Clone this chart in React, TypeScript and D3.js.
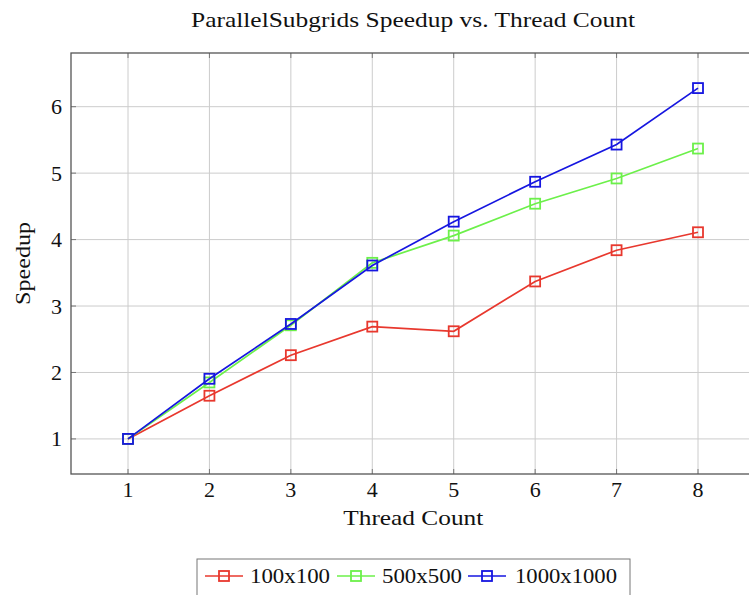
import React, { type JSX } from "react";
import * as d3 from "d3";

const threads = [1, 2, 3, 4, 5, 6, 7, 8];
const seriesNames = ["100x100", "500x500", "1000x1000"];
const speedup100 = [1.0, 1.65, 2.26, 2.69, 2.62, 3.37, 3.84, 4.11];
const speedup500 = [1.0, 1.85, 2.71, 3.65, 4.06, 4.54, 4.92, 5.37];
const speedup1000 = [1.0, 1.905, 2.73, 3.61, 4.27, 4.87, 5.43, 6.28];
const yTickValues = [1, 2, 3, 4, 5, 6];
const colors = ["#e8382e", "#6cf04a", "#1616e0"];

const width = 749;
const height = 595;
const font = "'Liberation Serif', 'DejaVu Serif', serif";
const fontSize = 22;

function Marker(props: { x: number, y: number, color: string }): JSX.Element {
    const s = 10;
    return <rect x={props.x - s / 2} y={props.y - s / 2} width={s} height={s}
        fill="none" stroke={props.color} strokeWidth={1.8} />;
}

export default function App(): JSX.Element {
    const plot = { left: 71, right: 755, top: 53, bottom: 474 };

    // pgfplots style: 10% enlarged limits around the data
    const xMin = 1, xMax = 8;
    const allY = [...speedup100, ...speedup500, ...speedup1000];
    const yMin = d3.min(allY)!, yMax = d3.max(allY)!;
    const xPad = (xMax - xMin) * 0.1;
    const yPad = (yMax - yMin) * 0.1;

    const x = d3.scaleLinear([xMin - xPad, xMax + xPad], [plot.left, plot.right]);
    const y = d3.scaleLinear([yMin - yPad, yMax + yPad], [plot.bottom, plot.top]);

    const line = d3.line<number>()
        .x((d, i) => x(threads[i]))
        .y((d) => y(d));

    const data = [speedup100, speedup500, speedup1000];
    const tickLen = 5;

    // legend layout (computer modern is wider than Liberation, so pin text widths)
    const legend = { left: 197, top: 559, lineY: 576, textY: 583 };
    const legendItems = [
        { lx: 205, tx: 250, w: 80 },
        { lx: 337, tx: 382, w: 80 },
        { lx: 468, tx: 515, w: 102 },
    ];

    return <svg width={width} height={height}
        style={{ position: "absolute", left: 0, top: 0, overflow: "hidden" }}>
        <rect x={0} y={0} width={width} height={height} fill="white" />
        <text x={413} y={26.5} textAnchor="middle" fontFamily={font} fontSize={fontSize} fill="#111"
            textLength={444} lengthAdjust="spacingAndGlyphs">
            ParallelSubgrids Speedup vs. Thread Count
        </text>

        {/* Grid */}
        <g stroke="#cccccc" strokeWidth={1}>
            {threads.map((t) => (
                <line key={"gx" + t} x1={x(t)} x2={x(t)} y1={plot.top} y2={plot.bottom} />
            ))}
            {yTickValues.map((t) => (
                <line key={"gy" + t} x1={plot.left} x2={plot.right} y1={y(t)} y2={y(t)} />
            ))}
        </g>

        {/* Ticks, inward on all sides */}
        <g stroke="#777" strokeWidth={1}>
            {threads.map((t) => (
                <g key={"tx" + t}>
                    <line x1={x(t)} x2={x(t)} y1={plot.bottom} y2={plot.bottom - tickLen} />
                    <line x1={x(t)} x2={x(t)} y1={plot.top} y2={plot.top + tickLen} />
                </g>
            ))}
            {yTickValues.map((t) => (
                <g key={"ty" + t}>
                    <line x1={plot.left} x2={plot.left + tickLen} y1={y(t)} y2={y(t)} />
                    <line x1={plot.right} x2={plot.right - tickLen} y1={y(t)} y2={y(t)} />
                </g>
            ))}
        </g>

        <rect x={plot.left} y={plot.top} width={plot.right - plot.left} height={plot.bottom - plot.top}
            fill="none" stroke="#555" strokeWidth={1.3} />

        {/* Tick labels */}
        <g fontFamily={font} fontSize={fontSize} fill="#111">
            {threads.map((t) => (
                <text key={"lx" + t} x={x(t)} y={plot.bottom + 23} textAnchor="middle">{t}</text>
            ))}
            {yTickValues.map((t) => (
                <text key={"ly" + t} x={plot.left - 9} y={y(t) + 7.5} textAnchor="end">{t}</text>
            ))}
        </g>

        <text x={413.3} y={525} textAnchor="middle" fontFamily={font} fontSize={fontSize} fill="#111"
            textLength={140} lengthAdjust="spacingAndGlyphs">Thread Count</text>
        <text transform={`translate(30, 263.4) rotate(-90)`} textAnchor="middle"
            fontFamily={font} fontSize={fontSize} fill="#111"
            textLength={83} lengthAdjust="spacingAndGlyphs">Speedup</text>

        {/* Series */}
        {data.map((values, si) => (
            <g key={"s" + si}>
                <path d={line(values)!} fill="none" stroke={colors[si]} strokeWidth={1.7} />
                {values.map((v, i) => (
                    <Marker key={i} x={x(threads[i])} y={y(v)} color={colors[si]} />
                ))}
            </g>
        ))}

        {/* Legend */}
        <rect x={legend.left} y={legend.top} width={433} height={50} fill="white" stroke="#777" strokeWidth={1} />
        {seriesNames.map((name, i) => (
            <g key={"leg" + i}>
                <line x1={legendItems[i].lx} x2={legendItems[i].lx + 38} y1={legend.lineY} y2={legend.lineY}
                    stroke={colors[i]} strokeWidth={1.7} />
                <Marker x={legendItems[i].lx + 19} y={legend.lineY} color={colors[i]} />
                <text x={legendItems[i].tx} y={legend.textY}
                    fontFamily={font} fontSize={fontSize} fill="#111"
                    textLength={legendItems[i].w} lengthAdjust="spacingAndGlyphs">{name}</text>
            </g>
        ))}
    </svg>;
}
